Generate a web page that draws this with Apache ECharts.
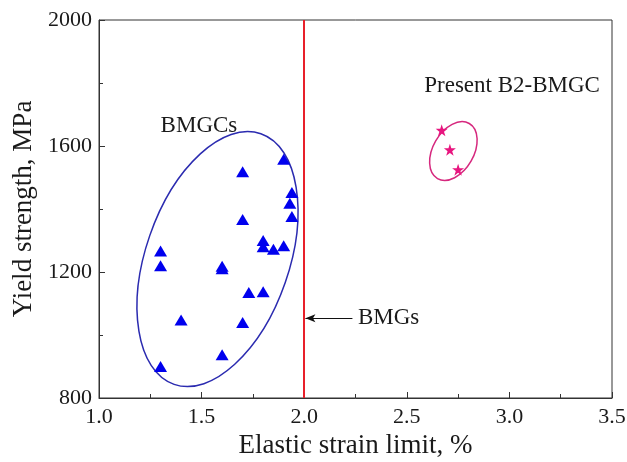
<!DOCTYPE html>
<html>
<head>
<meta charset="utf-8">
<script src="https://cdn.jsdelivr.net/npm/echarts@6/dist/echarts.min.js"></script>
<style>
  html, body { margin: 0; padding: 0; background: #fff; }
  #chart { width: 627px; height: 462px; }
</style>
</head>
<body>
<div id="chart"></div>
<script>
// Elastic strain limit (%) and yield strength (MPa)
const bmgcStrain = [1.3, 1.3, 1.3, 1.4, 1.6, 1.6, 1.6, 1.7, 1.7, 1.7, 1.73, 1.8, 1.8, 1.8, 1.85, 1.9, 1.9, 1.94, 1.93, 1.94];
const bmgcYield  = [1267, 1220, 900, 1048, 1218, 1210, 937, 1518, 1367, 1040, 1135, 1300, 1280, 1137, 1272, 1558, 1283, 1452, 1418, 1376];
const b2Strain = [2.67, 2.71, 2.75];
const b2Yield  = [1650, 1588, 1525];
const bmgLimit = 2.0;            // elastic strain limit of monolithic BMGs
const xTicks = [1.0, 1.5, 2.0, 2.5, 3.0, 3.5];
const yTicks = [800, 1200, 1600, 2000];

// Group outlines: centre in data units, semi-axes in px, tilt in degrees (clockwise)
const groupRings = [
  { center: [1.5775, 1241], rx: 71.7, ry: 132.6, tilt: 19.1, color: '#2b2bb0' },
  { center: [2.727, 1584], rx: 20.4, ry: 31.8, tilt: 30, color: '#d6287e' }
];

const FONT = "'Liberation Serif', 'Times New Roman', serif";
const TXT = '#1a1a1a';

const chart = echarts.init(document.getElementById('chart'));

const zip = (a, b) => a.map((v, i) => [v, b[i]]);

chart.setOption({
  animation: false,
  backgroundColor: '#fff',
  grid: {
    left: 99, right: 15, top: 20, bottom: 64, outerBoundsMode: 'none', containLabel: false,
    show: true, borderColor: '#333', borderWidth: 1, backgroundColor: 'transparent'
  },
  xAxis: {
    type: 'value', min: xTicks[0], max: xTicks[xTicks.length - 1], interval: 0.5,
    name: 'Elastic strain limit, %', nameLocation: 'middle', nameGap: 34,
    nameTextStyle: { fontFamily: FONT, fontSize: 27, color: TXT },
    axisLine: { lineStyle: { color: '#333', width: 1 } },
    axisTick: { inside: true, length: 6, lineStyle: { color: '#333' } },
    minorTick: { show: true, splitNumber: 2, length: 4, lineStyle: { color: '#333' } },
    splitLine: { show: false },
    axisLabel: { fontFamily: FONT, fontSize: 22, color: TXT, margin: 8, formatter: v => v.toFixed(1) }
  },
  yAxis: {
    type: 'value', min: yTicks[0], max: yTicks[yTicks.length - 1], interval: 400,
    name: 'Yield strength, MPa', nameLocation: 'middle', nameGap: 51,
    nameTextStyle: { fontFamily: FONT, fontSize: 27, color: TXT },
    axisLine: { lineStyle: { color: '#333', width: 1 } },
    axisTick: { inside: true, length: 6, lineStyle: { color: '#333' } },
    minorTick: { show: true, splitNumber: 2, length: 4, lineStyle: { color: '#333' } },
    splitLine: { show: false },
    axisLabel: { fontFamily: FONT, fontSize: 22, color: TXT, margin: 7, formatter: v => String(v) }
  },
  series: [
    {
      name: 'BMGCs', type: 'scatter', symbol: 'triangle', symbolSize: [13, 11],
      itemStyle: { color: '#0000ee', opacity: 1 },
      data: zip(bmgcStrain, bmgcYield), z: 5,
      markPoint: {
        symbol: 'circle', symbolSize: 0, silent: true,
        label: { show: true, fontFamily: FONT, fontSize: 23, color: TXT },
        data: [
          { coord: [1.487, 1663], label: { formatter: 'BMGCs' } },
          { coord: [3.013, 1792], label: { formatter: 'Present B2-BMGC' } }
        ]
      }
    },
    {
      name: 'Present B2-BMGC', type: 'scatter', symbol: 'path://M50,0 L61.8,35.1 L98.9,35.1 L68.9,56.9 L80.3,92.1 L50,70.3 L19.7,92.1 L31.1,56.9 L1.1,35.1 L38.2,35.1 Z',
      symbolSize: 12, itemStyle: { color: '#e8157f', opacity: 1 },
      data: zip(b2Strain, b2Yield), z: 5
    },
    {
      // BMG limit line with pointer and label
      type: 'line', data: [], silent: true,
      markLine: {
        silent: true, animation: false,
        data: [
          [{ coord: [bmgLimit, 800], symbol: 'none' }, { coord: [bmgLimit, 2000], symbol: 'none' }],
          [{ coord: [2.235, 1053], symbol: 'none', lineStyle: { color: '#111', width: 1, type: 'solid' } },
           { coord: [bmgLimit + 0.006, 1053], symbol: 'arrow', symbolSize: [6, 10], lineStyle: { color: '#111', width: 1, type: 'solid' } }]
        ],
        lineStyle: { color: '#e8202a', width: 2, type: 'solid' },
        label: { show: false }
      },
      markPoint: {
        symbol: 'circle', symbolSize: 0, silent: true,
        label: { show: true, fontFamily: FONT, fontSize: 23, color: TXT, align: 'left', position: 'inside' },
        data: [{ coord: [2.262, 1053], label: { formatter: 'BMGs' } }]
      }
    },
    {
      // group outlines
      type: 'custom', silent: true, z: 3,
      data: groupRings.map(r => r.center),
      renderItem: (params, api) => {
        const ring = groupRings[params.dataIndex];
        const p = api.coord([api.value(0), api.value(1)]);
        return {
          type: 'ellipse',
          x: p[0], y: p[1],
          rotation: -ring.tilt * Math.PI / 180,
          shape: { cx: 0, cy: 0, rx: ring.rx, ry: ring.ry },
          style: { fill: 'none', stroke: ring.color, lineWidth: 1.5 }
        };
      }
    }
  ]
});
</script>
</body>
</html>
